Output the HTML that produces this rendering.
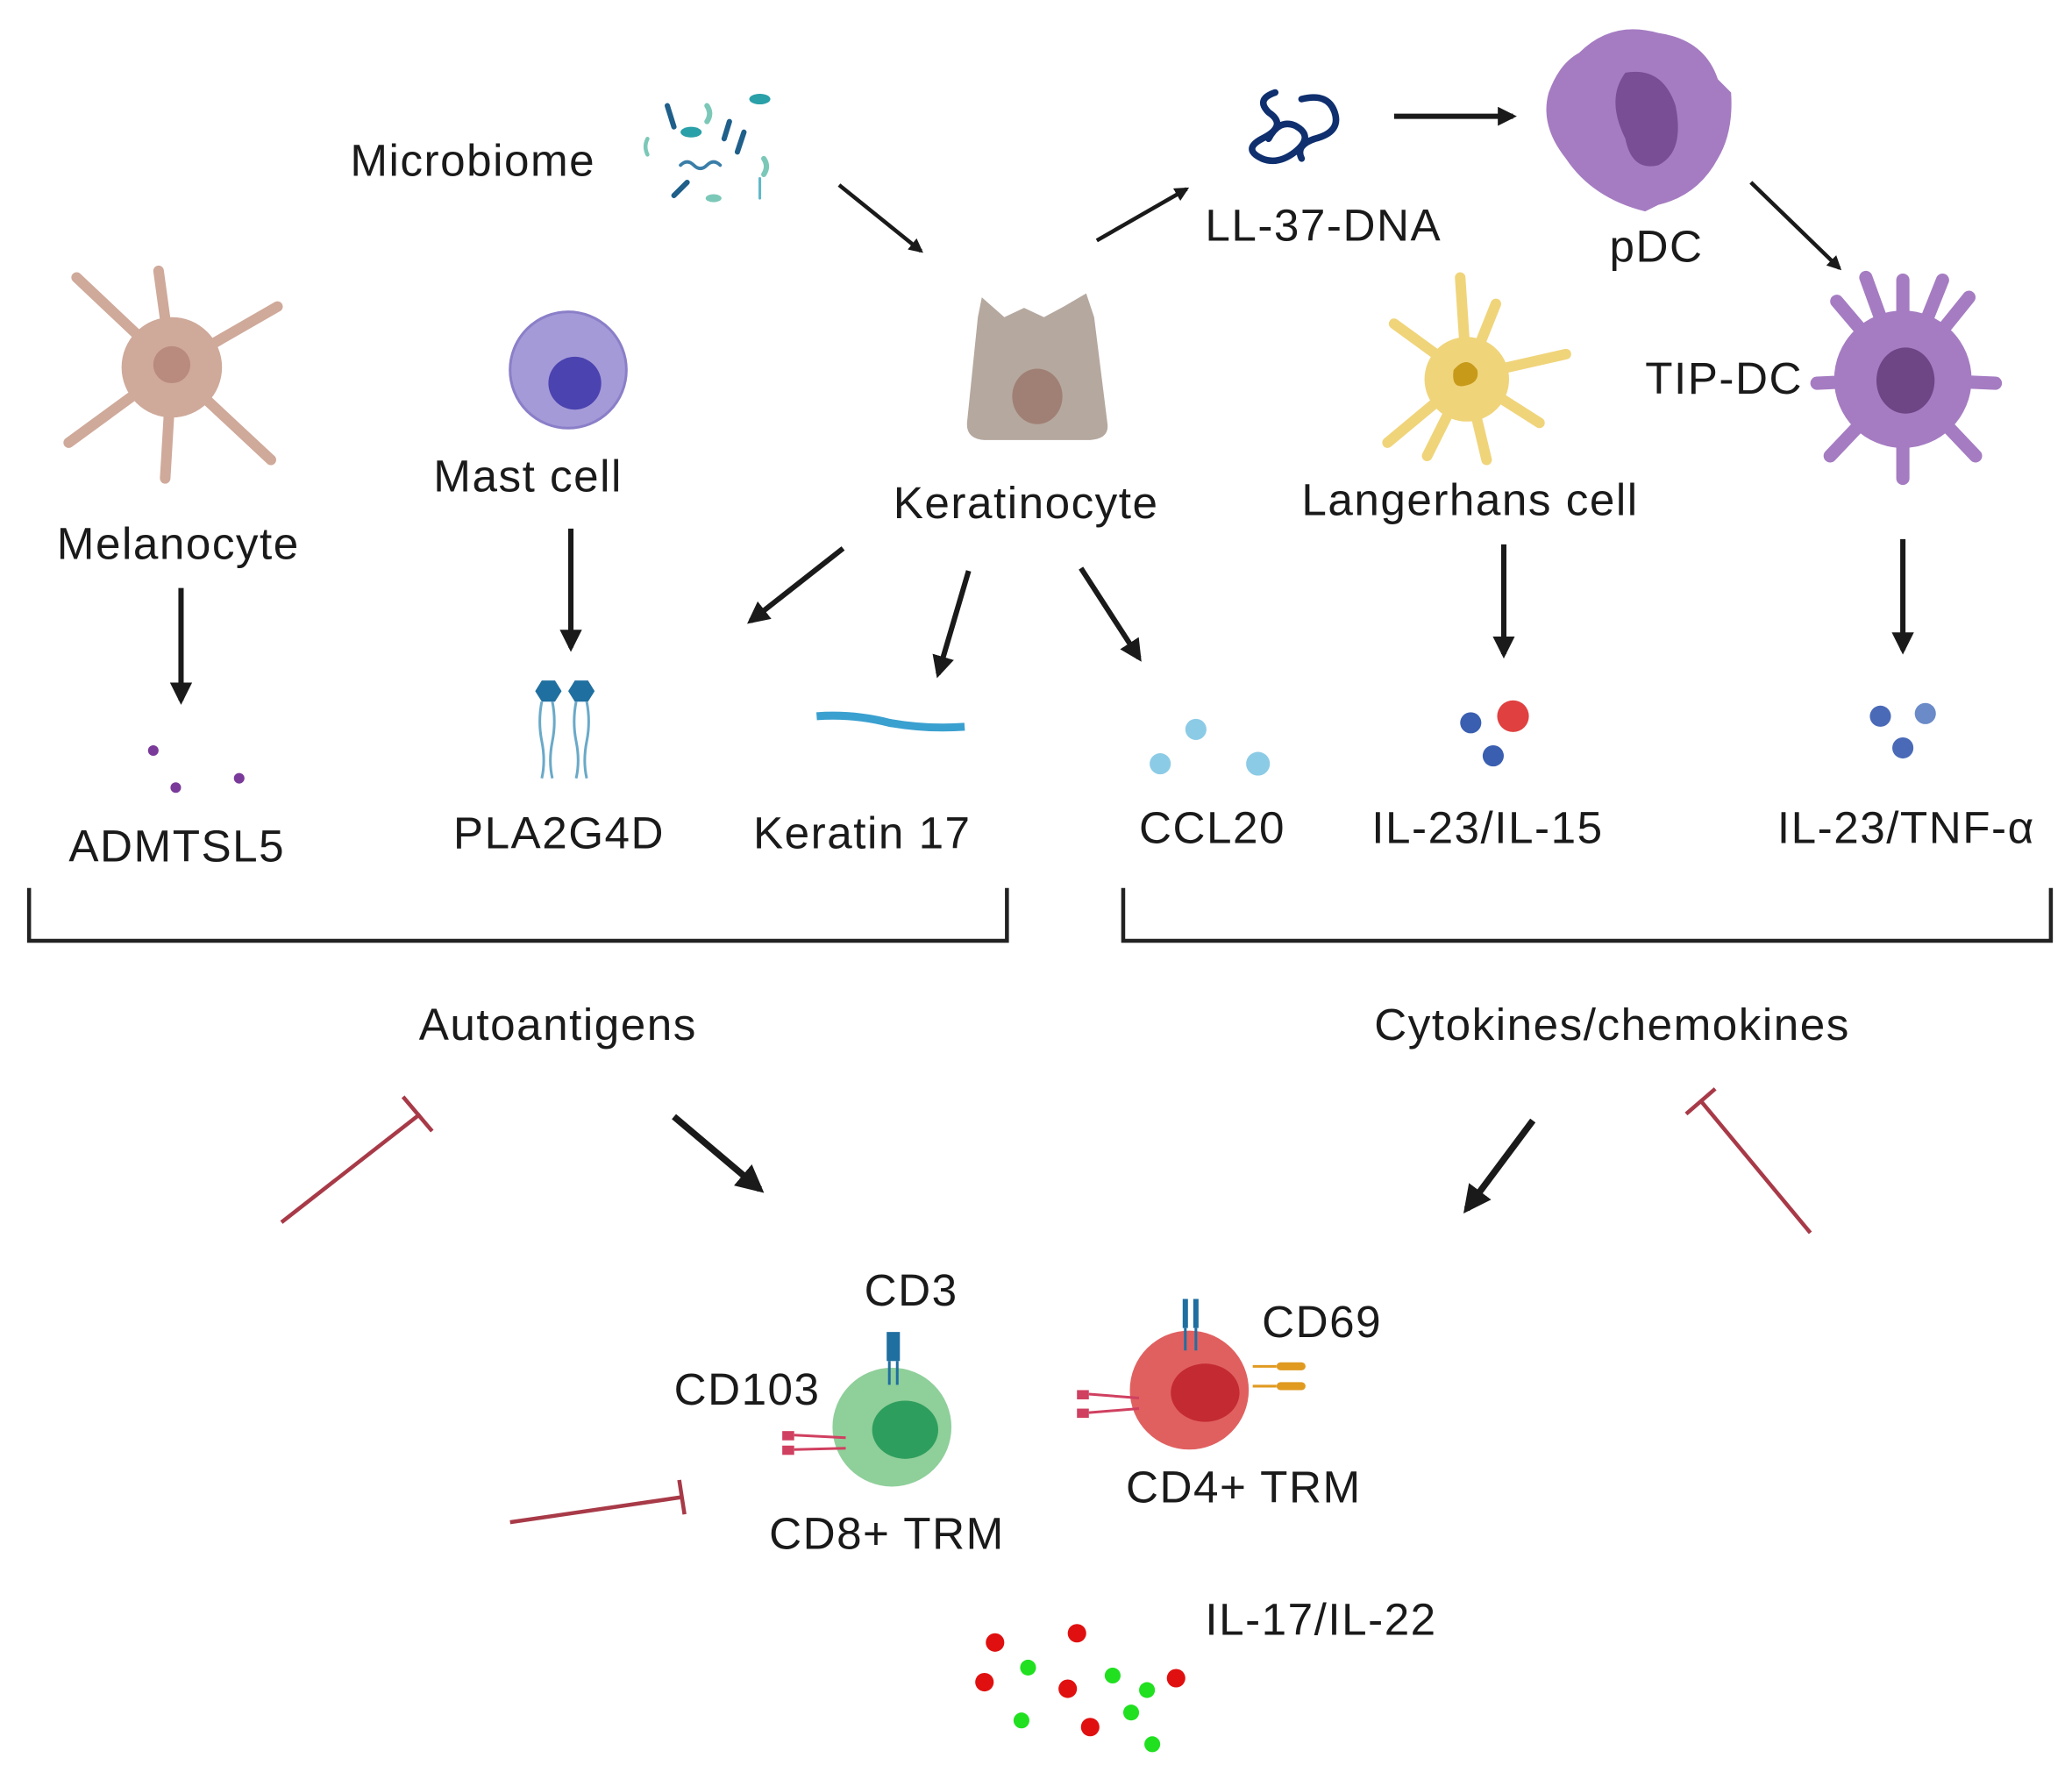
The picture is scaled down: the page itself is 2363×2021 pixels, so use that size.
<!DOCTYPE html>
<html><head><meta charset="utf-8"><style>
html,body{margin:0;padding:0;background:#fff;}
svg{display:block;}
text{font-family:"Liberation Sans",sans-serif;font-size:34px;letter-spacing:1px;fill:#1a1a1a;}
</style></head><body>
<svg width="2363" height="2021" viewBox="0 0 1568 1341" preserveAspectRatio="none" xmlns="http://www.w3.org/2000/svg">
<defs>
<marker id="ah" viewBox="0 0 10 10" refX="8" refY="5" markerWidth="4.2" markerHeight="4.2" orient="auto"><path d="M0,0 L10,5 L0,10 z" fill="#1a1a1a"/></marker>
<marker id="ah2" viewBox="0 0 10 10" refX="8" refY="5" markerWidth="3.6" markerHeight="3.6" orient="auto"><path d="M0,0 L10,5 L0,10 z" fill="#1a1a1a"/></marker>
</defs>

<text x="265" y="133">Microbiome</text>
<g stroke-linecap="round">
<line x1="505" y1="80" x2="510" y2="96" stroke="#1f5f8a" stroke-width="4"/>
<line x1="548" y1="105" x2="552" y2="92" stroke="#1f5f8a" stroke-width="4"/>
<line x1="558" y1="115" x2="563" y2="100" stroke="#1f5f8a" stroke-width="4"/>
<line x1="510" y1="148" x2="520" y2="138" stroke="#1f5f8a" stroke-width="4"/>
<ellipse cx="575" cy="75" rx="8" ry="4" fill="#2aa0a8"/>
<ellipse cx="523" cy="100" rx="8" ry="4" fill="#2aa0a8"/>
<path d="M515 125 q5 -5 10 0 t10 0 t10 0" stroke="#3a7ea8" stroke-width="2.5" fill="none"/>
<path d="M535 80 q4 6 0 12" stroke="#7cc8b8" stroke-width="4" fill="none"/>
<path d="M578 120 q4 6 0 12" stroke="#7cc8b8" stroke-width="4" fill="none"/>
<path d="M490 105 q-3 6 0 12" stroke="#7cc8b8" stroke-width="3" fill="none"/>
<ellipse cx="540" cy="150" rx="6" ry="3" fill="#7cc8b8"/>
<line x1="575" y1="135" x2="575" y2="150" stroke="#5fb8c8" stroke-width="2"/>
</g>
<line x1="635" y1="140" x2="697" y2="190" stroke="#1a1a1a" stroke-width="3" marker-end="url(#ah2)"/>

<path d="M743 225 L760 240 L775 233 L790 240 L805 232 L822 222 L828 240 L838 320 Q840 332 825 333 L745 333 Q730 332 732 318 L740 240 Z" fill="#b5a89f"/>
<ellipse cx="785" cy="300" rx="19" ry="21" fill="#a08075"/>
<text x="676" y="392">Keratinocyte</text>
<line x1="830" y1="182" x2="898" y2="143" stroke="#1a1a1a" stroke-width="3" marker-end="url(#ah2)"/>

<g stroke="#0f2f6e" stroke-width="5" fill="none" stroke-linecap="round">
<path d="M965 70 q-15 5 -5 15 q15 10 -5 20 q-15 8 0 15 q12 5 25 -5 q15 -12 0 -20 q-12 -5 -20 10"/>
<path d="M985 75 q20 -5 25 10 q5 15 -15 20 q-15 5 -10 15"/>
</g>
<text x="912" y="182">LL-37-DNA</text>
<line x1="1055" y1="88" x2="1145" y2="88" stroke="#1a1a1a" stroke-width="4" marker-end="url(#ah2)"/>

<path d="M1195 40 Q1220 15 1255 25 Q1290 30 1300 60 L1310 70 Q1312 100 1300 120 Q1285 148 1255 155 L1245 160 Q1205 150 1185 120 Q1165 95 1172 70 Q1180 48 1195 40 Z" fill="#a57cc2"/>
<path d="M1230 55 Q1258 50 1268 80 Q1275 115 1255 125 Q1235 130 1230 105 Q1215 75 1230 55 Z" fill="#7a4e94"/>
<text x="1218" y="198">pDC</text>
<line x1="1325" y1="138" x2="1392" y2="203" stroke="#1a1a1a" stroke-width="3" marker-end="url(#ah2)"/>

<g stroke="#a57cc2" stroke-width="10" stroke-linecap="round" fill="none">
<line x1="1440" y1="287" x2="1440" y2="212"/><line x1="1440" y1="287" x2="1490" y2="225"/>
<line x1="1440" y1="287" x2="1510" y2="290"/><line x1="1440" y1="287" x2="1495" y2="345"/>
<line x1="1440" y1="287" x2="1440" y2="362"/><line x1="1440" y1="287" x2="1385" y2="345"/>
<line x1="1440" y1="287" x2="1375" y2="290"/><line x1="1440" y1="287" x2="1390" y2="228"/>
<line x1="1440" y1="287" x2="1412" y2="210"/><line x1="1440" y1="287" x2="1470" y2="212"/>
</g>
<circle cx="1440" cy="287" r="52" fill="#a57cc2"/>
<ellipse cx="1442" cy="288" rx="22" ry="25" fill="#6e4585"/>
<text x="1245" y="298">TIP-DC</text>

<g stroke="#f0d47a" stroke-width="8" stroke-linecap="round" fill="none">
<path d="M1110 285 L1105 210"/><path d="M1110 285 L1132 230"/><path d="M1110 285 L1185 268"/>
<path d="M1110 285 L1165 320"/><path d="M1110 285 L1125 348"/><path d="M1110 285 L1080 345"/>
<path d="M1110 285 L1050 335"/><path d="M1110 285 L1055 245"/>
</g>
<circle cx="1110" cy="287" r="32" fill="#f0d47a"/>
<path d="M1100 280 q10 -12 18 0 q2 10 -10 12 q-10 2 -8 -12z" fill="#c89a1a"/>
<text x="985" y="390">Langerhans cell</text>

<g stroke="#cfa99a" stroke-width="8" stroke-linecap="round" fill="none">
<path d="M130 278 L120 205"/><path d="M130 278 L210 232"/><path d="M130 278 L205 348"/>
<path d="M130 278 L125 362"/><path d="M130 278 L52 335"/><path d="M130 278 L58 210"/>
</g>
<circle cx="130" cy="278" r="38" fill="#cfa99a"/>
<circle cx="130" cy="276" r="14" fill="#b98a7e"/>
<text x="43" y="423">Melanocyte</text>

<circle cx="430" cy="280" r="44" fill="#a59ad8" stroke="#8a7fc8" stroke-width="2"/>
<circle cx="435" cy="290" r="20" fill="#4a43b0"/>
<text x="328" y="372">Mast cell</text>

<g stroke="#1a1a1a" stroke-width="4">
<line x1="137" y1="445" x2="137" y2="530" marker-end="url(#ah)"/>
<line x1="432" y1="400" x2="432" y2="490" marker-end="url(#ah)"/>
<line x1="638" y1="415" x2="568" y2="470" marker-end="url(#ah)"/>
<line x1="733" y1="432" x2="710" y2="510" marker-end="url(#ah)"/>
<line x1="818" y1="430" x2="862" y2="498" marker-end="url(#ah)"/>
<line x1="1138" y1="412" x2="1138" y2="495" marker-end="url(#ah)"/>
<line x1="1440" y1="408" x2="1440" y2="492" marker-end="url(#ah)"/>
</g>

<circle cx="116" cy="568" r="4" fill="#7a3a9a"/><circle cx="133" cy="596" r="4" fill="#7a3a9a"/><circle cx="181" cy="589" r="4" fill="#7a3a9a"/>
<text x="52" y="652">ADMTSL5</text>

<g>
<path d="M405 523 l5 -8 h10 l5 8 l-5 8 h-10 z" fill="#1f6fa0"/><path d="M430 523 l5 -8 h10 l5 8 l-5 8 h-10 z" fill="#1f6fa0"/>
<g stroke="#6aa9c8" stroke-width="2" fill="none">
<path d="M410 531 q-3 15 0 30 t0 28"/><path d="M418 531 q3 15 0 30 t0 28"/>
<path d="M436 531 q-3 15 0 30 t0 28"/><path d="M444 531 q3 15 0 30 t0 28"/>
</g></g>
<text x="343" y="642">PLA2G4D</text>

<path d="M618 542 q28 -2 55 5 q28 5 57 3" stroke="#3aa0d0" stroke-width="6" fill="none"/>
<text x="570" y="642">Keratin 17</text>

<circle cx="878" cy="578" r="8" fill="#8ccbe6"/><circle cx="905" cy="552" r="8" fill="#8ccbe6"/><circle cx="952" cy="578" r="9" fill="#8ccbe6"/>
<text x="862" y="638">CCL20</text>

<circle cx="1113" cy="547" r="8" fill="#3a5fb0"/><circle cx="1145" cy="542" r="12" fill="#e04040"/><circle cx="1130" cy="572" r="8" fill="#3a5fb0"/>
<text x="1038" y="638">IL-23/IL-15</text>

<circle cx="1423" cy="542" r="8" fill="#4a6ab8"/><circle cx="1457" cy="540" r="8" fill="#6a8ac8"/><circle cx="1440" cy="566" r="8" fill="#4a6ab8"/>
<text x="1345" y="638">IL-23/TNF-α</text>

<path d="M22 672 V712 H762 V672" stroke="#222" stroke-width="3" fill="none"/>
<path d="M850 672 V712 H1552 V672" stroke="#222" stroke-width="3" fill="none"/>
<text x="317" y="787">Autoantigens</text>
<text x="1040" y="787">Cytokines/chemokines</text>

<g stroke="#a83a48" stroke-width="3">
<line x1="213" y1="925" x2="318" y2="843"/><line x1="305" y1="830" x2="327" y2="856"/>
<line x1="1370" y1="933" x2="1287" y2="833"/><line x1="1276" y1="843" x2="1298" y2="824"/>
<line x1="386" y1="1152" x2="516" y2="1133"/><line x1="514" y1="1120" x2="518" y2="1146"/>
</g>
<g stroke="#1a1a1a" stroke-width="5">
<line x1="510" y1="845" x2="575" y2="900" marker-end="url(#ah)"/>
<line x1="1160" y1="848" x2="1110" y2="915" marker-end="url(#ah)"/>
</g>

<circle cx="675" cy="1080" r="45" fill="#8fcf9a"/>
<ellipse cx="685" cy="1082" rx="25" ry="22" fill="#2e9e5e"/>
<rect x="671" y="1008" width="10" height="22" fill="#1f6fa0"/>
<line x1="673" y1="1030" x2="673" y2="1048" stroke="#1f6fa0" stroke-width="2"/><line x1="679" y1="1030" x2="679" y2="1048" stroke="#1f6fa0" stroke-width="2"/>
<rect x="592" y="1083" width="9" height="7" fill="#d04060"/><rect x="592" y="1094" width="9" height="7" fill="#d04060"/>
<line x1="601" y1="1086" x2="640" y2="1088" stroke="#d04060" stroke-width="2"/><line x1="601" y1="1097" x2="640" y2="1096" stroke="#d04060" stroke-width="2"/>
<text x="654" y="988">CD3</text>
<text x="510" y="1063">CD103</text>
<text x="582" y="1172">CD8+ TRM</text>

<circle cx="900" cy="1052" r="45" fill="#e06060"/>
<ellipse cx="912" cy="1054" rx="26" ry="22" fill="#c42a32"/>
<rect x="895" y="983" width="4" height="22" fill="#1f6fa0"/><rect x="903" y="983" width="4" height="22" fill="#1f6fa0"/>
<line x1="897" y1="1005" x2="897" y2="1022" stroke="#1f6fa0" stroke-width="2"/><line x1="905" y1="1005" x2="905" y2="1022" stroke="#1f6fa0" stroke-width="2"/>
<rect x="966" y="1031" width="22" height="6" rx="3" fill="#e09a20"/><rect x="966" y="1046" width="22" height="6" rx="3" fill="#e09a20"/>
<line x1="948" y1="1034" x2="966" y2="1034" stroke="#e09a20" stroke-width="2"/><line x1="948" y1="1049" x2="966" y2="1049" stroke="#e09a20" stroke-width="2"/>
<rect x="815" y="1052" width="9" height="7" fill="#d04060"/><rect x="815" y="1066" width="9" height="7" fill="#d04060"/>
<line x1="824" y1="1055" x2="862" y2="1058" stroke="#d04060" stroke-width="2"/><line x1="824" y1="1069" x2="862" y2="1066" stroke="#d04060" stroke-width="2"/>
<text x="955" y="1012">CD69</text>
<text x="852" y="1137">CD4+ TRM</text>

<text x="912" y="1237">IL-17/IL-22</text>
<g>
<circle cx="753" cy="1243" r="7" fill="#e01010"/><circle cx="815" cy="1236" r="7" fill="#e01010"/>
<circle cx="745" cy="1273" r="7" fill="#e01010"/><circle cx="808" cy="1278" r="7" fill="#e01010"/>
<circle cx="890" cy="1270" r="7" fill="#e01010"/><circle cx="825" cy="1307" r="7" fill="#e01010"/>
<circle cx="778" cy="1262" r="6" fill="#20e020"/><circle cx="842" cy="1268" r="6" fill="#20e020"/>
<circle cx="868" cy="1279" r="6" fill="#20e020"/><circle cx="773" cy="1302" r="6" fill="#20e020"/>
<circle cx="856" cy="1296" r="6" fill="#20e020"/><circle cx="872" cy="1320" r="6" fill="#20e020"/>
</g>
</svg>
</body></html>
